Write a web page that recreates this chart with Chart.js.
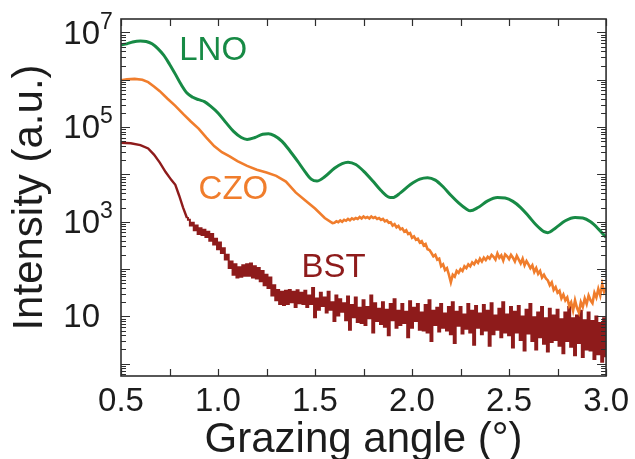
<!DOCTYPE html>
<html>
<head>
<meta charset="utf-8">
<script src="https://cdn.jsdelivr.net/npm/chart.js@4"></script>
<style>
  html, body { margin: 0; padding: 0; background: #fff; }
  #wrap { width: 635px; height: 459px; }
</style>
</head>
<body>
<div id="wrap"><canvas id="chart" width="635" height="459"></canvas></div>
<script>
/* ===== X-ray reflectivity: LNO / CZO / BST ===== */

const FONT = '"Liberation Sans", Arial, Helvetica, sans-serif';
const INK = '#1c1c1c';

const COLORS = { lno: '#178a45', czo: '#f07d2c', bst: '#8e1b1b' };

// Intensities are kept as log10 values (a.u.)
const lnoAngle = [0.50, 0.53, 0.56, 0.60, 0.63, 0.66, 0.69, 0.72, 0.75, 0.78, 0.81, 0.84, 0.87, 0.90, 0.93, 0.96,
  1.00, 1.04, 1.08, 1.12, 1.15, 1.19, 1.23, 1.26, 1.29, 1.33, 1.37, 1.41, 1.45, 1.48, 1.51, 1.55, 1.60, 1.64, 1.67,
  1.71, 1.75, 1.80, 1.84, 1.88, 1.90, 1.94, 1.99, 2.04, 2.08, 2.12, 2.16, 2.20, 2.24, 2.28, 2.30, 2.34, 2.39, 2.44,
  2.48, 2.52, 2.56, 2.60, 2.64, 2.68, 2.70, 2.74, 2.79, 2.84, 2.88, 2.92, 2.96, 3.00];
const lnoLog = [6.74, 6.76, 6.80, 6.82, 6.81, 6.76, 6.66, 6.52, 6.33, 6.12, 5.90, 5.72, 5.63, 5.58, 5.54, 5.45,
  5.30, 5.10, 4.91, 4.78, 4.74, 4.78, 4.85, 4.86, 4.82, 4.70, 4.50, 4.28, 4.05, 3.90, 3.86, 3.95, 4.13, 4.23, 4.26,
  4.21, 4.07, 3.85, 3.66, 3.52, 3.51, 3.61, 3.78, 3.90, 3.93, 3.88, 3.74, 3.56, 3.40, 3.27, 3.23, 3.30, 3.44, 3.51,
  3.50, 3.43, 3.30, 3.12, 2.93, 2.79, 2.77, 2.87, 3.02, 3.09, 3.08, 3.00, 2.85, 2.67];

const czoAngle = [0.50, 0.53, 0.57, 0.61, 0.64, 0.67, 0.70, 0.74, 0.78, 0.82, 0.86, 0.90, 0.94, 0.98, 1.02, 1.06,
  1.10, 1.15, 1.20, 1.25, 1.30, 1.35, 1.40, 1.45, 1.50, 1.55, 1.59];
const czoLog = [5.99, 6.01, 6.02, 6.00, 5.95, 5.86, 5.76, 5.60, 5.45, 5.28, 5.12, 4.97, 4.78, 4.60, 4.47, 4.38,
  4.28, 4.18, 4.10, 4.04, 3.97, 3.85, 3.62, 3.45, 3.28, 3.08, 2.97];
// noisy part of the scan, 0.01 deg steps from 1.60
const czoScanStart = 1.60;
const czoScanLog = [
  2.98, 3.01, 2.99, 3.03, 3.00, 3.04, 3.02, 3.06, 3.03, 3.07,
  3.05, 3.08, 3.06, 3.10, 3.07, 3.11, 3.08, 3.10, 3.07, 3.11,
  3.08, 3.10, 3.06, 3.08, 3.04, 3.06, 3.01, 3.03, 2.98, 2.99,
  2.92, 2.95, 2.88, 2.91, 2.84, 2.86, 2.79, 2.82, 2.74, 2.76,
  2.66, 2.69, 2.62, 2.64, 2.56, 2.59, 2.50, 2.53, 2.42, 2.40,
  2.34, 2.27, 2.30, 2.20, 2.22, 2.06, 2.10, 1.98, 2.02, 1.88,
  1.72, 1.88, 1.84, 1.96, 1.92, 2.00, 1.96, 2.06, 2.02, 2.10,
  2.06, 2.14, 2.10, 2.18, 2.13, 2.22, 2.16, 2.24, 2.19, 2.26,
  2.22, 2.30, 2.26, 2.20, 2.33, 2.24, 2.29, 2.18, 2.31, 2.27,
  2.21, 2.30, 2.24, 2.16, 2.28, 2.20, 2.12, 2.22, 2.08, 2.17,
  2.10, 2.02, 2.08, 1.94, 2.02, 1.90, 1.96, 1.82, 1.88, 1.80,
  1.76, 1.66, 1.72, 1.56, 1.62, 1.50, 1.54, 1.38, 1.46, 1.34,
  1.40, 1.22, 1.30, 1.12, 1.34, 1.18, 1.08, 1.30, 1.20, 1.38,
  1.26, 1.44, 1.34, 1.28, 1.50, 1.40, 1.58, 1.44, 1.68, 1.52,
  1.60];

const bstAngle = [0.50, 0.55, 0.60, 0.64, 0.67, 0.70, 0.73, 0.76, 0.78, 0.80, 0.82, 0.84];
const bstLog = [4.67, 4.66, 4.62, 4.55, 4.42, 4.25, 4.05, 3.88, 3.78, 3.55, 3.30, 3.08];
// noisy part of the scan, 0.01 deg steps from 0.85
const bstScanStart = 0.85;
const bstScanLog = [
  3.04, 2.92, 2.98, 2.82, 2.92, 2.74, 2.86, 2.72, 2.83, 2.68,
  2.79, 2.60, 2.74, 2.52, 2.64, 2.42, 2.56, 2.34, 2.44, 2.20,
  2.30, 2.02, 2.16, 1.88, 2.10, 1.82, 2.04, 1.84, 2.08, 1.86,
  2.10, 1.86, 2.12, 1.82, 2.06, 1.80, 2.02, 1.74, 1.96, 1.66,
  1.88, 1.60, 1.82, 1.44, 1.66, 1.34, 1.56, 1.26, 1.52, 1.24,
  1.54, 1.26, 1.56, 1.30, 1.52, 1.20, 1.55, 1.28, 1.50, 1.26,
  1.54, 1.20, 1.44, 1.26, 1.60, 0.98, 1.38, 1.14, 1.50, 1.22,
  1.40, 1.08, 1.52, 1.14, 1.30, 0.90, 1.44, 1.02, 1.36, 1.10,
  1.28, 0.92, 1.42, 0.72, 1.24, 0.98, 1.40, 0.88, 1.18, 0.86,
  1.34, 0.82, 1.20, 0.96, 1.44, 0.66, 1.28, 0.90, 1.16, 0.84,
  1.30, 0.78, 1.14, 0.60, 1.26, 0.92, 1.36, 0.76, 1.12, 0.82,
  1.26, 0.86, 1.10, 0.56, 1.32, 0.76, 1.18, 0.90, 1.26, 0.72,
  1.08, 0.70, 1.24, 0.66, 1.34, 0.48, 1.12, 0.82, 1.18, 0.68,
  1.26, 0.76, 1.06, 0.70, 1.20, 0.62, 1.30, 0.44, 1.10, 0.80,
  1.20, 0.64, 1.04, 0.74, 1.26, 0.66, 1.12, 0.40, 1.22, 0.76,
  1.06, 0.62, 1.24, 0.70, 1.12, 0.38, 1.28, 0.62, 1.02, 0.72,
  1.16, 0.56, 1.30, 0.66, 1.04, 0.60, 1.20, 0.34, 1.10, 0.66,
  1.22, 0.50, 1.00, 0.28, 1.14, 0.64, 1.26, 0.48, 0.98, 0.30,
  1.08, 0.56, 1.20, 0.42, 0.96, 0.26, 1.16, 0.46, 1.02, 0.50,
  1.14, 0.38, 0.94, 0.22, 1.08, 0.48, 1.20, 0.36, 0.96, 0.18,
  1.02, 0.44, 1.12, 0.14, 0.92, 0.30, 1.08, 0.28, 0.90, 0.10,
  1.00, 0.20, 0.86, 0.04, 0.96, 0.16];

const X_MIN = 0.5, X_MAX = 3.0;
const Y_MIN = Math.pow(10, -0.26), Y_MAX = Math.pow(10, 7.285);
const X_LABELS = [0.5, 1.0, 1.5, 2.0, 2.5, 3.0];
const Y_LABEL_EXP = [1, 3, 5, 7];

// series name, anchor angle, anchor log10 intensity
const SERIES_TAGS = [
  { text: 'LNO', key: 'lno', x: 0.80, y: 6.61 },
  { text: 'CZO', key: 'czo', x: 0.90, y: 3.68 },
  { text: 'BST', key: 'bst', x: 1.43, y: 2.02 },
];

/* ---------- helpers ---------- */

function toPoints(angles, logs) {
  return angles.map((a, i) => ({ x: a, y: Math.pow(10, logs[i]) }));
}

function scanPoints(start, logs) {
  return logs.map((v, i) => ({ x: +(start + i * 0.01).toFixed(2), y: Math.pow(10, v) }));
}

/* ---------- plugins ---------- */

const frameTicks = {
  id: 'frameTicks',
  afterDatasetsDraw(chart) {
    const { ctx, chartArea: a, scales: { x, y } } = chart;
    ctx.save();
    ctx.strokeStyle = '#2e2e2e';
    ctx.lineWidth = 1.2;
    ctx.beginPath();
    for (let v = X_MIN; v <= X_MAX + 1e-9; v += 0.25) {
      const px = Math.round(x.getPixelForValue(v)) + 0.5;
      const len = 7;
      ctx.moveTo(px, a.bottom); ctx.lineTo(px, a.bottom - len);
      ctx.moveTo(px, a.top); ctx.lineTo(px, a.top + len);
    }
    for (let e = -1; e <= 7; e++) {
      for (let m = 1; m <= 9; m++) {
        const v = m * Math.pow(10, e);
        if (v < Y_MIN || v > Y_MAX) continue;
        const py = Math.round(y.getPixelForValue(v)) + 0.5;
        const len = m === 1 ? 9 : 5;
        ctx.moveTo(a.left, py); ctx.lineTo(a.left + len, py);
        ctx.moveTo(a.right, py); ctx.lineTo(a.right - len, py);
      }
    }
    ctx.stroke();
    ctx.lineWidth = 1.6;
    ctx.strokeRect(a.left, a.top, a.right - a.left, a.bottom - a.top);
    ctx.restore();
  },
};

const powerLabels = {
  id: 'powerLabels',
  afterDraw(chart) {
    const { ctx, chartArea: a, scales: { x, y } } = chart;
    ctx.save();
    ctx.fillStyle = INK;
    ctx.textBaseline = 'middle';
    Y_LABEL_EXP.forEach(e => {
      const py = y.getPixelForValue(Math.pow(10, e)) + 2;
      ctx.font = '33px ' + FONT;
      ctx.textAlign = 'right';
      ctx.fillText('10', a.left - 21, py);
      if (e !== 1) {
        ctx.font = '23px ' + FONT;
        ctx.textAlign = 'left';
        ctx.fillText(String(e), a.left - 21, py - 12);
      }
    });

    ctx.font = '33px ' + FONT;
    ctx.textAlign = 'left';
    SERIES_TAGS.forEach(t => {
      ctx.fillStyle = COLORS[t.key];
      ctx.fillText(t.text, x.getPixelForValue(t.x), y.getPixelForValue(Math.pow(10, t.y)));
    });
    ctx.restore();
  },
};

/* ---------- chart ---------- */

const lineStyle = (color, width) => ({
  borderColor: color,
  backgroundColor: color,
  borderWidth: width,
  pointRadius: 0,
  fill: false,
});

const bstSmooth = toPoints(bstAngle, bstLog);

new Chart(document.getElementById('chart'), {
  type: 'line',
  data: {
    datasets: [
      { label: 'LNO', data: toPoints(lnoAngle, lnoLog), cubicInterpolationMode: 'monotone', ...lineStyle(COLORS.lno, 3) },
      { label: 'CZO', data: toPoints(czoAngle, czoLog).concat(scanPoints(czoScanStart, czoScanLog)), ...lineStyle(COLORS.czo, 2.6) },
      { label: 'BST', data: bstSmooth, ...lineStyle(COLORS.bst, 2.4) },
      // counting noise of the BST scan, drawn as a stepped trace
      { label: 'BST scan', data: bstSmooth.slice(-1).concat(scanPoints(bstScanStart, bstScanLog)), stepped: 'middle', ...lineStyle(COLORS.bst, 2) },
    ],
  },
  options: {
    responsive: false,
    animation: false,
    devicePixelRatio: 1,
    layout: { padding: { left: 0, right: 25, top: 19, bottom: 0 } },
    plugins: { legend: { display: false }, tooltip: { enabled: false } },
    scales: {
      x: {
        type: 'linear',
        min: X_MIN,
        max: X_MAX,
        grid: { display: false, drawTicks: false },
        border: { display: false },
        afterBuildTicks: s => { s.ticks = X_LABELS.map(v => ({ value: v })); },
        afterFit: s => { s.height = 83; },
        ticks: {
          color: INK,
          padding: 6,
          maxRotation: 0,
          autoSkip: false,
          font: { family: FONT, size: 33 },
          callback: v => Number(v).toFixed(1),
        },
        title: {
          display: true,
          text: 'Grazing angle (°)',
          color: INK,
          font: { family: FONT, size: 42, lineHeight: 1 },
          padding: { top: 0, bottom: -2 },
        },
      },
      y: {
        type: 'logarithmic',
        min: Y_MIN,
        max: Y_MAX,
        grid: { display: false, drawTicks: false },
        border: { display: false },
        ticks: { display: false },
        afterFit: s => { s.width = 121; },
        title: {
          display: true,
          text: 'Intensity (a.u.)',
          color: INK,
          font: { family: FONT, size: 42, lineHeight: 1 },
          padding: { top: 9, bottom: 0 },
        },
      },
    },
  },
  plugins: [frameTicks, powerLabels],
});
</script>
</body>
</html>
